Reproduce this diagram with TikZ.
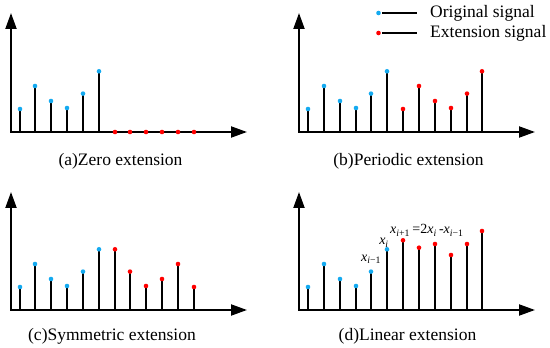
\documentclass[tikz,border=0pt]{standalone}
\usepackage{fontspec}
\setmainfont{Liberation Serif}
\usetikzlibrary{arrows.meta,positioning}
\definecolor{origblue}{RGB}{20,170,240}
\definecolor{extred}{RGB}{255,0,0}
\newcommand{\xsub}[1]{\textit{x}\textsubscript{#1}}

\begin{document}
\begin{tikzpicture}[
    x=1pt, y=1pt,
    font=\fontsize{17.5}{20}\selectfont,
    axis/.style={
        line width=2pt,
        {Triangle[length=16pt,width=11pt]}-{Triangle[length=16pt,width=11pt]}
    },
    stem/.style={line width=2pt},
    orig/.style={fill=origblue},
    ext/.style={fill=extred},
    caption/.style={inner sep=0pt, anchor=base},
    lbl/.style={inner sep=0pt, font=\fontsize{14}{16}\selectfont}
]
    \useasboundingbox (0,0) rectangle (550,348);

    %% (a) Zero extension
    \begin{scope}[shift={(11,216)}]
        \coordinate (a-0) at (0,0);
        \coordinate (a-y) at (0,119);
        \coordinate (a-x) at (236,0);
        \draw[axis] (a-y) -- (a-0) -- (a-x);
        \foreach \h [count=\k from 0] in {23,46,31,24,38.4,60.7} {
            \pgfmathsetmacro{\sx}{round(8.5+\k*15.85)}
            \coordinate (a-b\k) at (\sx,0);
            \coordinate (a-o\k) at (\sx,\h);
            \draw[stem] (a-b\k) -- (a-o\k);
            \fill[orig] (a-o\k) circle (2.3);
        }
        \foreach \k in {6,...,11} {
            \pgfmathsetmacro{\sx}{round(8.5+\k*15.85)}
            \coordinate (a-e\k) at (\sx,0);
            \fill[ext] (a-e\k) circle (2.3);
        }
        \node[caption] (a-cap) at (109.5,-34) {(a)Zero extension};
    \end{scope}

    %% (b) Periodic extension
    \begin{scope}[shift={(299,216)}]
        \coordinate (b-0) at (0,0);
        \coordinate (b-y) at (0,119);
        \coordinate (b-x) at (236,0);
        \draw[axis] (b-y) -- (b-0) -- (b-x);
        \foreach \h [count=\k from 0] in {23,46,31,24,38.4,60.7} {
            \pgfmathsetmacro{\sx}{round(9+\k*15.85)}
            \coordinate (b-b\k) at (\sx,0);
            \coordinate (b-o\k) at (\sx,\h);
            \draw[stem] (b-b\k) -- (b-o\k);
            \fill[orig] (b-o\k) circle (2.3);
        }
        \foreach \h [count=\k from 6] in {23,46,31,24,38.4,60.7} {
            \pgfmathsetmacro{\sx}{round(9+\k*15.85)}
            \coordinate (b-b\k) at (\sx,0);
            \coordinate (b-e\k) at (\sx,\h);
            \draw[stem] (b-b\k) -- (b-e\k);
            \fill[ext] (b-e\k) circle (2.3);
        }
        \node[caption] (b-cap) at (109.5,-34) {(b)Periodic extension};
    \end{scope}

    %% (c) Symmetric extension
    \begin{scope}[shift={(11,38)}]
        \coordinate (c-0) at (0,0);
        \coordinate (c-y) at (0,118);
        \coordinate (c-x) at (236,0);
        \draw[axis] (c-y) -- (c-0) -- (c-x);
        \foreach \h [count=\k from 0] in {23,46,31,24,38.4,60.7} {
            \pgfmathsetmacro{\sx}{round(8.5+\k*15.85)}
            \coordinate (c-b\k) at (\sx,0);
            \coordinate (c-o\k) at (\sx,\h);
            \draw[stem] (c-b\k) -- (c-o\k);
            \fill[orig] (c-o\k) circle (2.3);
        }
        \foreach \h [count=\k from 6] in {60.7,38.4,24,31,46,23} {
            \pgfmathsetmacro{\sx}{round(8.5+\k*15.85)}
            \coordinate (c-b\k) at (\sx,0);
            \coordinate (c-e\k) at (\sx,\h);
            \draw[stem] (c-b\k) -- (c-e\k);
            \fill[ext] (c-e\k) circle (2.3);
        }
        \node[caption] (c-cap) at (101,-31) {(c)Symmetric extension};
    \end{scope}

    %% (d) Linear extension
    \begin{scope}[shift={(299,38)}]
        \coordinate (d-0) at (0,0);
        \coordinate (d-y) at (0,118);
        \coordinate (d-x) at (236,0);
        \draw[axis] (d-y) -- (d-0) -- (d-x);
        \foreach \h [count=\k from 0] in {23,46,31,24,38.4,60.7} {
            \pgfmathsetmacro{\sx}{round(9+\k*15.85)}
            \coordinate (d-b\k) at (\sx,0);
            \coordinate (d-o\k) at (\sx,\h);
            \draw[stem] (d-b\k) -- (d-o\k);
            \fill[orig] (d-o\k) circle (2.3);
        }
        \foreach \h [count=\k from 6] in {69.7,62.3,66,55,66,79} {
            \pgfmathsetmacro{\sx}{round(9+\k*15.85)}
            \coordinate (d-b\k) at (\sx,0);
            \coordinate (d-e\k) at (\sx,\h);
            \draw[stem] (d-b\k) -- (d-e\k);
            \fill[ext] (d-e\k) circle (2.3);
        }
        %% Labels
        \node[lbl, above=8pt of d-o4] (d-prev) {\xsub{\textit{i}−1}};
        \node[lbl, above=2pt of d-o5, xshift=-3pt] (d-cur) {\xsub{\textit{i}}};
        \node[lbl, above right=4pt and -13pt of d-e6] (d-next)
            {\xsub{\textit{i}+1}\,=2\xsub{\textit{i}}\,-\xsub{\textit{i}−1}};
        \node[caption] (d-cap) at (108.5,-31) {(d)Linear extension};
    \end{scope}

    %% Legend
    \coordinate (leg-o) at (378.5,335);
    \coordinate (leg-o1) at (382,335);
    \coordinate (leg-o2) at (417,335);
    \fill[orig] (leg-o) circle (2.3);
    \draw[stem] (leg-o1) -- (leg-o2);
    \node[caption, anchor=base west] (leg-otext) at (430,330.7) {Original signal};
    \coordinate (leg-e) at (378.5,315);
    \coordinate (leg-e1) at (382,315);
    \coordinate (leg-e2) at (417,315);
    \fill[ext] (leg-e) circle (2.3);
    \draw[stem] (leg-e1) -- (leg-e2);
    \node[caption, anchor=base west] (leg-etext) at (430,310.3) {Extension signal};
\end{tikzpicture}
\end{document}
